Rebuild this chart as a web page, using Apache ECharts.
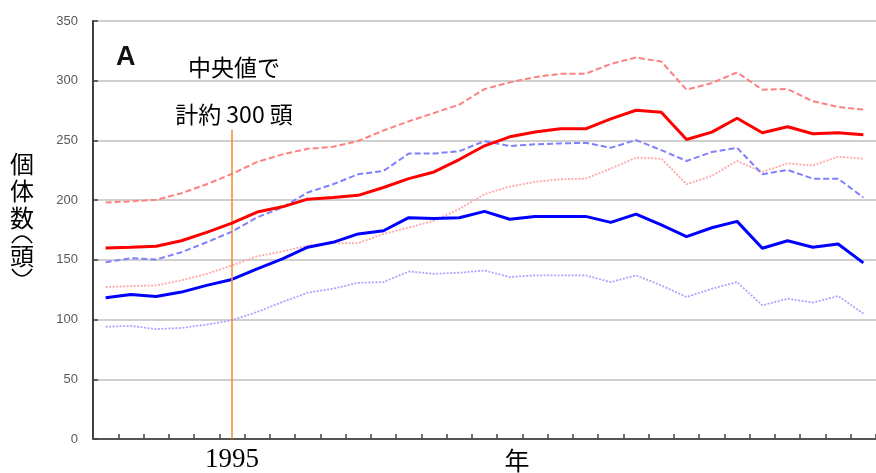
<!DOCTYPE html>
<html>
<head>
<meta charset="utf-8">
<script src="https://cdn.jsdelivr.net/npm/echarts@6/dist/echarts.min.js"></script>
<style>html,body{margin:0;padding:0;background:#fff}#c{width:876px;height:473px}</style>
</head>
<body>
<div id="c"></div>
<script>
const years = [];
for (let y = 1990; y <= 2020; y++) years.push(String(y));
const yTicks = [0, 50, 100, 150, 200, 250, 300, 350];
const markYear = '1995';
const markTop = 259;

const redSolid  = [160, 160.5, 161.4, 166, 173, 180.8, 190, 194.4, 200.8, 202.2, 204, 210.6, 218, 223.6, 234, 245.5, 253, 257, 259.7, 259.7, 268, 275.3, 273.6, 250.8, 257, 268.6, 256.4, 261.4, 255.6, 256.4, 254.7];
const redDashed = [198, 199, 200.3, 205.8, 213.3, 222, 232, 238.3, 243, 244.7, 249.5, 258.3, 266, 273, 280, 293, 298.6, 303, 305.8, 305.8, 314, 319.4, 316, 292.5, 298, 307, 292.5, 293, 282.8, 278, 275.8];
const redDotted = [127.2, 128, 128.6, 132.8, 138.3, 145.3, 153, 157, 162, 164, 164, 171.7, 177, 182.8, 192.5, 205, 211.4, 215.3, 217.5, 218, 226.4, 235.6, 234.7, 213.3, 220.3, 232.8, 223.6, 230.8, 229, 236.4, 234.7];
const blueSolid = [118.3, 121, 119.4, 123, 128.6, 133.6, 142.5, 150.8, 160.6, 164.7, 171.7, 174.4, 185.3, 184.7, 185.3, 190.6, 184, 186.4, 186.4, 186.4, 181.4, 188.3, 179.2, 169.4, 176.9, 182.2, 159.7, 166, 160.6, 163.3, 147.5];
const blueDashed = [148, 151.4, 150.3, 156.4, 164.7, 173.6, 185.6, 193.9, 206.4, 213.3, 221.7, 224.4, 239, 239, 241, 249.4, 245.3, 246.7, 247.5, 248, 243.9, 250.3, 241.9, 232.8, 240.3, 243.9, 221.7, 225.3, 218, 218, 202.2];
const blueDotted = [94, 94.7, 92, 93, 95.8, 99.4, 106.4, 114.7, 122.5, 125.8, 130.8, 131.4, 140.3, 138.3, 139.2, 141.1, 135.6, 137, 137, 137, 131.4, 137, 128.6, 118.9, 125.8, 131.4, 111.9, 117.5, 114.2, 119.7, 105];

const chart = echarts.init(document.getElementById('c'), null, {renderer: 'canvas'});

function line(name, data, color, width, type, z) {
  return {
    name, type: 'line', data, symbol: 'none', smooth: false, z: z,
    lineStyle: {color, width, type},
    emphasis: {disabled: true}
  };
}

const series = [
  line('青下限', blueDotted, '#a8a8ff', 1.8, [2, 1.5], 2),
  line('赤下限', redDotted, '#ffa8a8', 1.8, [2, 1.5], 2),
  line('青上限', blueDashed, '#8080ff', 2, [6, 3], 3),
  line('赤上限', redDashed, '#ff8080', 2, [6, 3], 3),
  line('青中央値', blueSolid, '#0000ff', 3, 'solid', 4),
  line('赤中央値', redSolid, '#ff0000', 3, 'solid', 5)
];
series[0].markLine = {
  silent: true, symbol: 'none', label: {show: false},
  lineStyle: {color: '#f08a30', width: 1.5, type: 'solid'},
  data: [[{coord: [markYear, 0]}, {coord: [markYear, markTop]}]]
};

const cjk = '"Noto Sans CJK JP", sans-serif';
const graphic = [
  {type: 'text', left: 116, top: 44, style: {text: 'A', font: 'bold 27px "Liberation Sans", Arial, sans-serif', fill: '#111'}},
  {type: 'text', x: 234, y: 67, style: {text: '中央値で', font: '23px ' + cjk, fill: '#000', align: 'center', verticalAlign: 'middle'}},
  {type: 'text', x: 234, y: 114, style: {text: '計約 300 頭', font: '23px ' + cjk, fill: '#000', align: 'center', verticalAlign: 'middle'}},
  {type: 'text', x: 517, y: 460, style: {text: '年', font: '25px ' + cjk, fill: '#000', align: 'center', verticalAlign: 'middle'}}
];
const yName = [['個', 164], ['体', 191], ['数', 218], ['頭', 256]];
yName.forEach(([ch, y]) => {
  graphic.push({type: 'text', x: 22, y: y, style: {text: ch, font: '24px ' + cjk, fill: '#000', align: 'center', verticalAlign: 'middle'}});
});
// vertical parentheses drawn as curves
graphic.push({type: 'bezierCurve', shape: {x1: 12, y1: 243, cpx1: 22, cpy1: 229, x2: 32, y2: 243},
  style: {stroke: '#000', fill: null, lineWidth: 1.6}, z: 100});
graphic.push({type: 'bezierCurve', shape: {x1: 12, y1: 269, cpx1: 22, cpy1: 283, x2: 32, y2: 269},
  style: {stroke: '#000', fill: null, lineWidth: 1.6}, z: 100});

chart.setOption({
  animation: false,
  backgroundColor: '#ffffff',
  grid: {left: 93, top: 21, bottom: 32, width: 790.5, containLabel: false},
  xAxis: {
    type: 'category', data: years, boundaryGap: true,
    axisLine: {show: true, lineStyle: {color: '#555', width: 2}},
    axisTick: {show: true, inside: true, length: 5, interval: 0, lineStyle: {color: '#444', width: 1.5}},
    axisLabel: {
      interval: 0, margin: 7,
      formatter: v => (v === markYear ? v : ''),
      fontFamily: '"Liberation Serif", "DejaVu Serif", serif', fontSize: 27, color: '#000'
    },
    splitLine: {show: false}
  },
  yAxis: {
    type: 'value', min: yTicks[0], max: yTicks[yTicks.length - 1], interval: 50,
    axisLine: {show: true, lineStyle: {color: '#404040', width: 2}},
    axisTick: {show: true, inside: true, length: 5, lineStyle: {color: '#404040', width: 1.5}},
    axisLabel: {margin: 15, fontFamily: '"Liberation Sans", Arial, sans-serif', fontSize: 13, color: '#595959'},
    splitLine: {show: true, lineStyle: {color: '#c0c0c0', width: 1.5}}
  },
  graphic: graphic,
  series: series
});
</script>
</body>
</html>
